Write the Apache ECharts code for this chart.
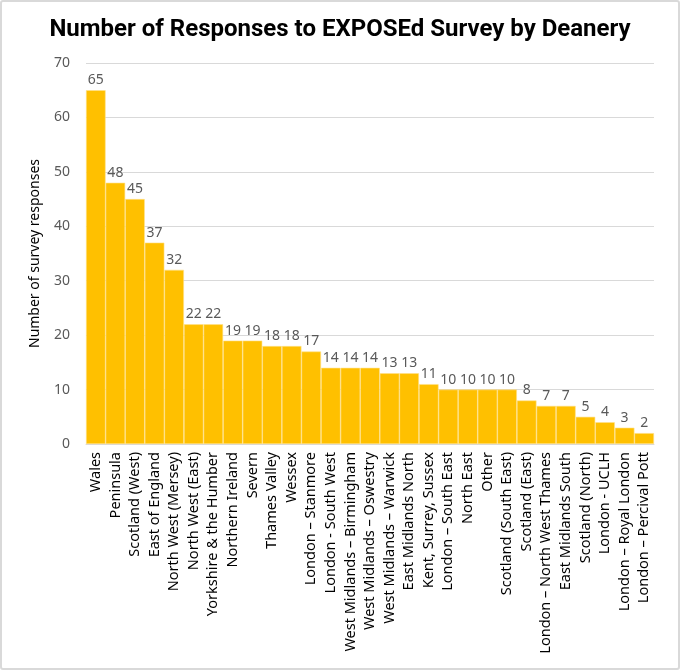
<!DOCTYPE html>
<html>
<head>
<meta charset="utf-8">
<script src="https://cdn.jsdelivr.net/npm/echarts@6/dist/echarts.min.js"></script>
<style>
  html, body { margin: 0; padding: 0; background: #fff; }
  #chart { width: 676px; height: 666px; border: 2px solid #d9d9d9; border-radius: 3px; }
</style>
</head>
<body>
<div id="chart"></div>
<script>
const deaneries = [
  'Wales', 'Peninsula', 'Scotland (West)', 'East of England', 'North West (Mersey)',
  'North West (East)', 'Yorkshire & the Humber', 'Northern Ireland', 'Severn', 'Thames Valley',
  'Wessex', 'London – Stanmore', 'London - South West', 'West Midlands – Birmingham',
  'West Midlands – Oswestry', 'West Midlands – Warwick', 'East Midlands North',
  'Kent, Surrey, Sussex', 'London – South East', 'North East', 'Other',
  'Scotland (South East)', 'Scotland (East)', 'London – North West Thames',
  'East Midlands South', 'Scotland (North)', 'London - UCLH', 'London – Royal London',
  'London – Percival Pott'
];
const responses = [65, 48, 45, 37, 32, 22, 22, 19, 19, 18, 18, 17, 14, 14, 14, 13, 13, 11, 10, 10, 10, 10, 8, 7, 7, 5, 4, 3, 2];
const yTicks = [0, 10, 20, 30, 40, 50, 60, 70];

const chart = echarts.init(document.getElementById('chart'));
chart.setOption({
  animation: false,
  title: {
    text: 'Number of Responses to EXPOSEd Survey by Deanery',
    left: 'center',
    top: 11,
    textStyle: { fontFamily: 'Roboto', fontWeight: 'bold', fontSize: 24, color: '#000' }
  },
  grid: { left: 84, right: 24, top: 61, bottom: 224 },
  xAxis: {
    type: 'category',
    data: deaneries,
    axisTick: { show: false },
    axisLine: { lineStyle: { color: '#d9d9d9' } },
    axisLabel: {
      rotate: 90, interval: 0, margin: 8,
      fontFamily: 'Noto Sans', fontSize: 14.5, color: '#000'
    }
  },
  yAxis: {
    type: 'value',
    min: yTicks[0], max: yTicks[yTicks.length - 1], interval: 10,
    name: 'Number of survey responses',
    nameLocation: 'middle',
    nameGap: 44,
    nameTextStyle: { fontFamily: 'Noto Sans', fontSize: 14, color: '#000' },
    axisLabel: { fontFamily: 'Noto Sans', fontSize: 14, color: '#595959', margin: 16 },
    splitLine: { lineStyle: { color: '#d9d9d9' } }
  },
  series: [{
    type: 'bar',
    data: responses,
    barCategoryGap: '0%',
    itemStyle: { color: '#ffc000', borderColor: '#ffe08a', borderWidth: 0.6 },
    label: {
      show: true, position: 'top', distance: 3,
      fontFamily: 'Noto Sans', fontSize: 14, color: '#595959'
    }
  }]
});
</script>
</body>
</html>
